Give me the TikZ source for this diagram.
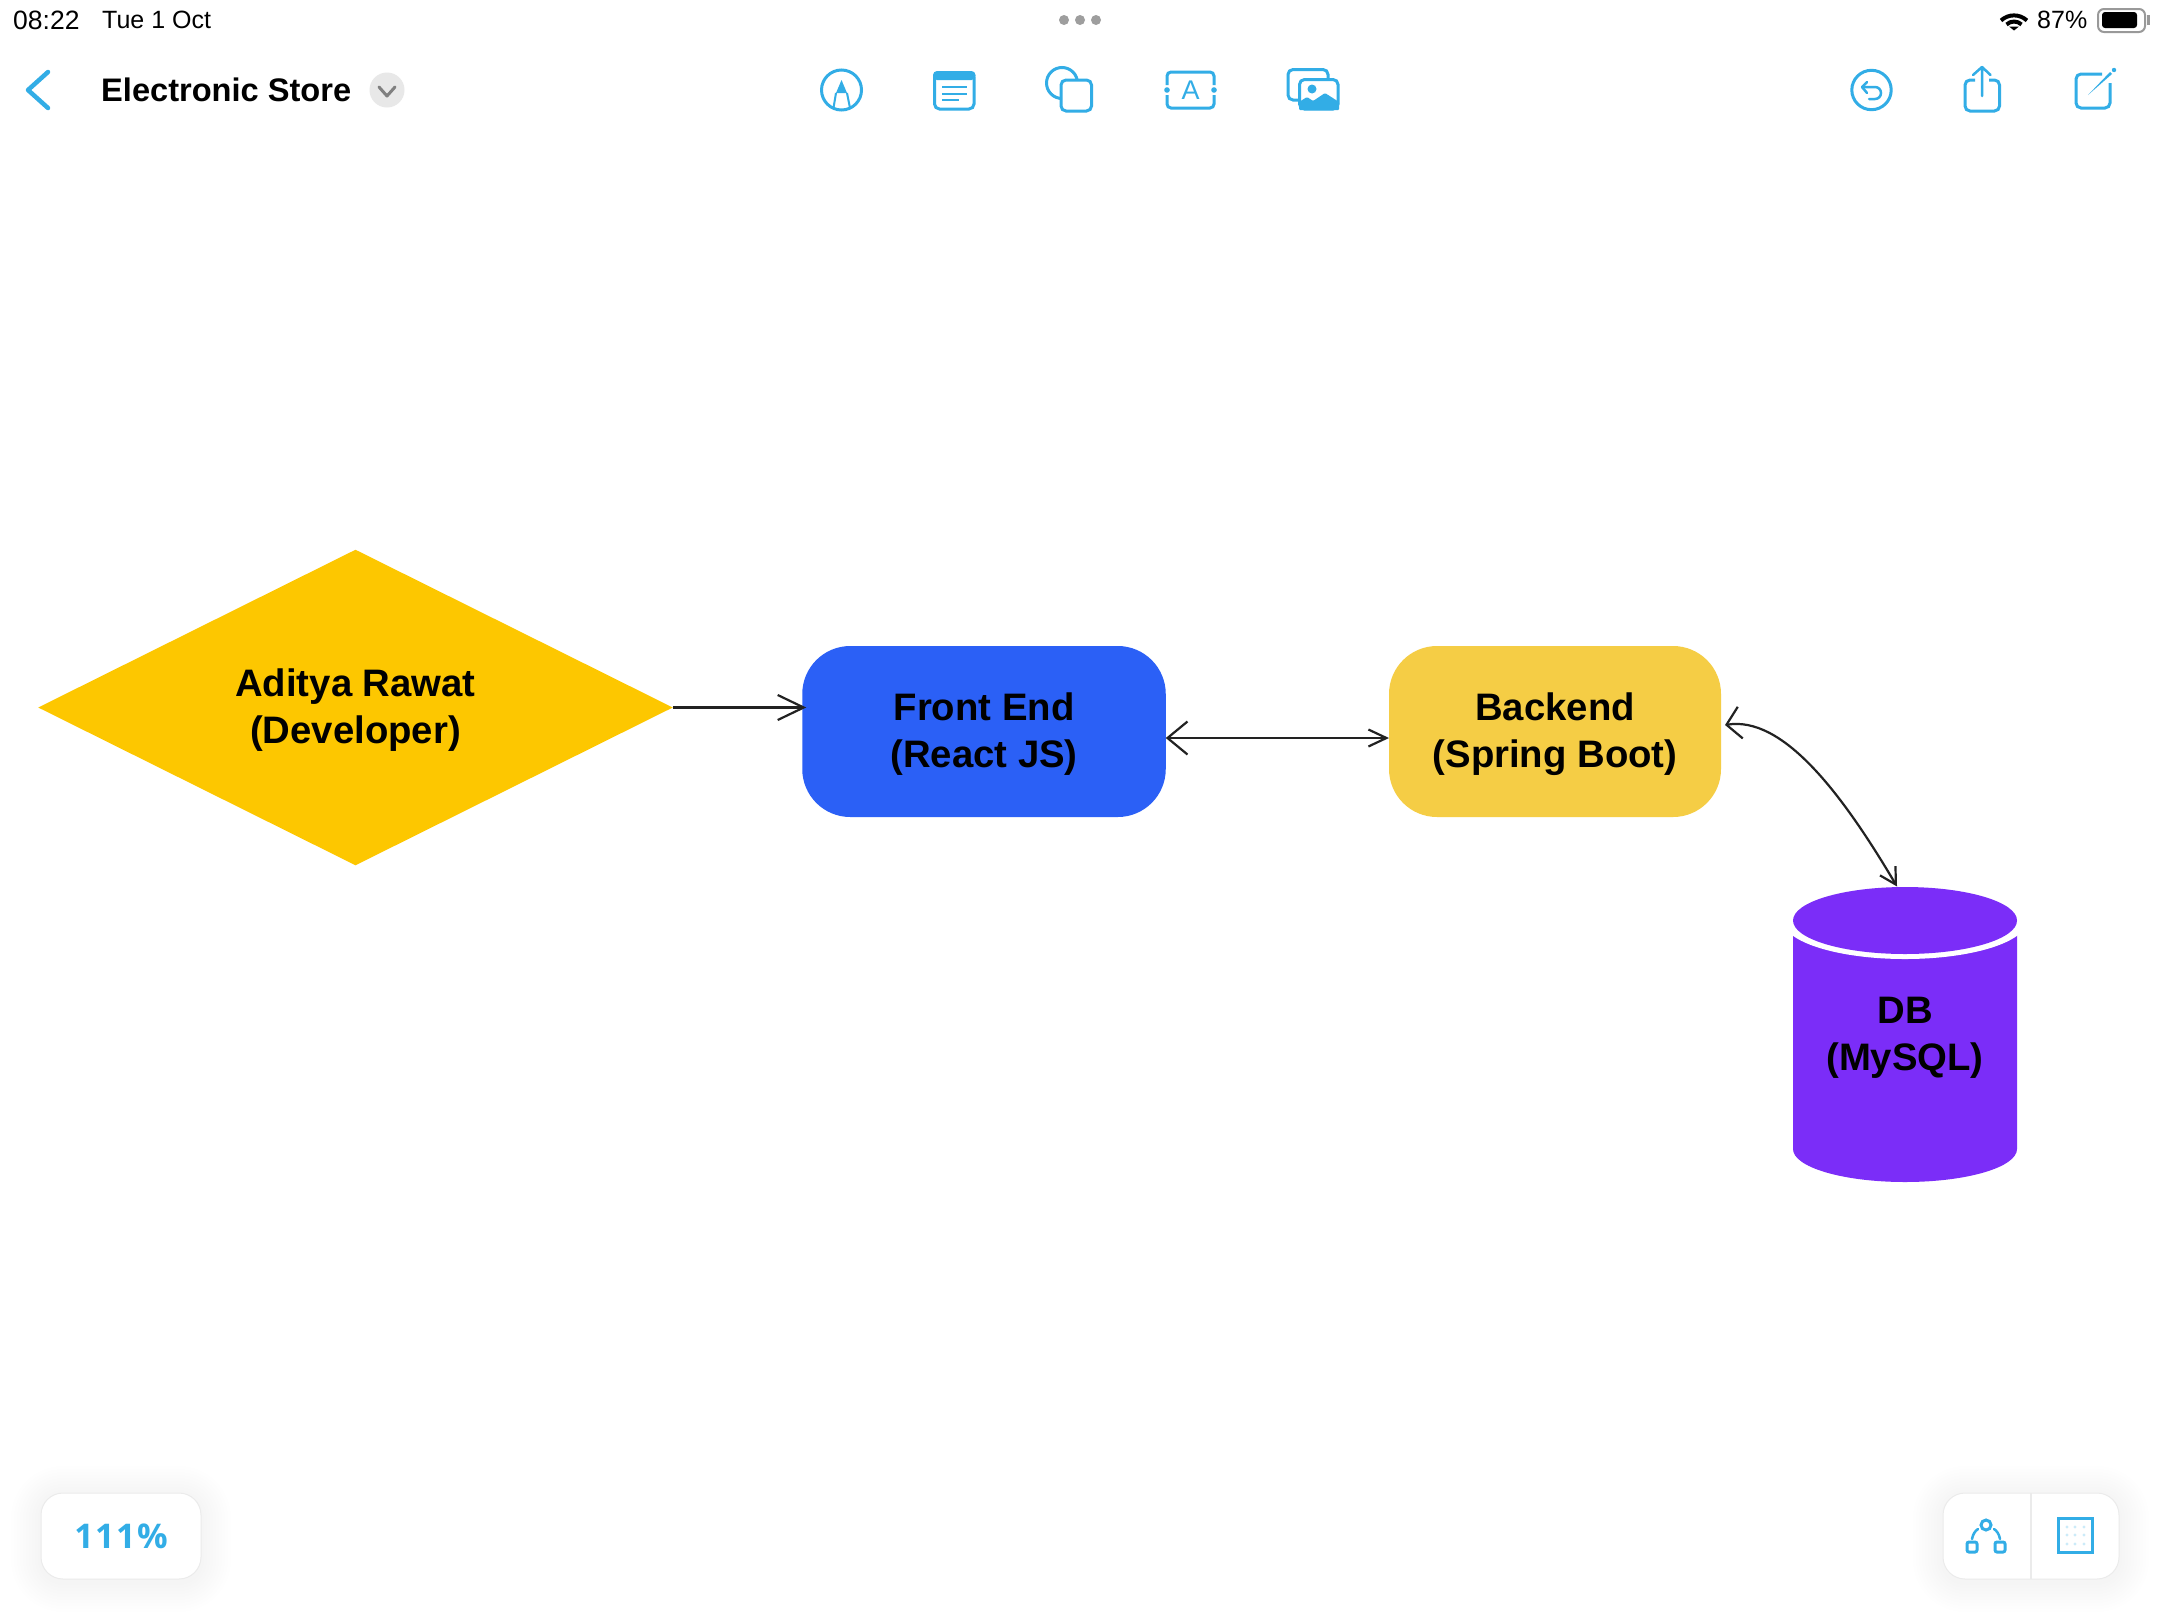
\documentclass[tikz,border=0pt]{standalone}
\usepackage{fontspec}
\setmainfont{Liberation Sans}
\newfontfamily\zoomfont[LetterSpace=4.4]{Open Sans}
\usetikzlibrary{arrows.meta,shapes.geometric}
\definecolor{appblue}{HTML}{32ADE6}
\definecolor{devyellow}{HTML}{FDC700}
\definecolor{frontblue}{HTML}{2B60F6}
\definecolor{backyellow}{HTML}{F5CD45}
\definecolor{dbpurple}{HTML}{7B2DF8}
\definecolor{linegrey}{HTML}{222222}
\newcommand{\liftline}{\rule{0pt}{33.5pt}}
\tikzset{
	icon/.style={draw=appblue,line width=3pt},
	iconfill/.style={fill=appblue},
	status/.style={font=\fontsize{25}{30}\selectfont,inner sep=0pt},
	shapelabel/.style={font=\fontsize{38.3}{47}\selectfont\bfseries,align=center,inner sep=0pt,outer sep=0pt},
	stepbox/.style={shapelabel,rounded corners=48pt,minimum height=171pt},
	link/.style={draw=linegrey,line width=2.2pt},
	panel/.style={fill=white,draw=black!8,line width=1pt,rounded corners=22pt},
	panelglow/.style={black,opacity=0.005},
}
\begin{document}
\begin{tikzpicture}[x=1pt,y=-1pt]
	\useasboundingbox (0,0) rectangle (2160,1620);
	\fill[white] (0,0) rectangle (2160,1620);

	% status bar
	\node[status,anchor=west,font=\fontsize{26.5}{30}\selectfont] at (13,20) (clock) {08:22};
	\node[status,anchor=west] at (102,20) (date) {Tue 1 Oct};
	\fill[black!38] (1064,20) circle (5pt) (1080,20) circle (5pt) (1096,20) circle (5pt);
	\draw[line width=4pt] (2001,20.5) arc[start angle=133,end angle=47,radius=19pt];
	\draw[line width=4pt] (2006.5,24.5) arc[start angle=133,end angle=47,radius=11pt];
	\fill (2009,26.5) -- (2019,26.5) -- (2014,30.5) -- cycle;
	\node[status,anchor=west] at (2037,20) (battery) {87\%};
	\draw[black!40,line width=2pt,rounded corners=6pt] (2098,9) rectangle (2145,32);
	\fill[rounded corners=3pt] (2102,12) rectangle (2137,28);
	\fill[black!40] (2147,15) rectangle (2150,25);

	% title bar
	\draw[appblue,line width=4.5pt,line cap=round,line join=round] (48,72) -- (28,90) -- (48,108);
	\node[anchor=west,inner sep=0pt,font=\fontsize{32.6}{38}\selectfont\bfseries] at (101,90) (title) {Electronic Store};
	\fill[black!9] (387,90) circle (17.5pt);
	\draw[black!50,line width=3pt,line cap=round,line join=round] (379,87) -- (387,96) -- (395,87);

	% pencil
	\draw[icon] (841.5,90) circle (20pt);
	\fill[iconfill] (841.5,80) -- (847,93) -- (836,93) -- cycle;
	\draw[appblue,line width=2pt] (836,93) -- (833.5,108) (847,93) -- (850,108);
	% note
	\draw[icon,rounded corners=5pt] (934.5,72.5) rectangle (974,109);
	\fill[iconfill,rounded corners=4pt] (933,71) rectangle (975.5,80);
	\draw[appblue,line width=2.5pt] (942,87) -- (967,87) (942,94) -- (967,94) (942,100) -- (959,100);
	% shapes
	\draw[icon] (1062,83) circle (15.5pt);
	\draw[icon,fill=white,rounded corners=5pt] (1061,80) rectangle (1091.5,111);
	% text box
	\draw[icon,rounded corners=4pt] (1167,85) -- (1167,72) -- (1214,72) -- (1214,85);
	\draw[icon,rounded corners=4pt] (1167,95) -- (1167,108) -- (1214,108) -- (1214,95);
	\fill[iconfill] (1167,90) circle (2.8pt) (1214,90) circle (2.8pt);
	\node[text=appblue,inner sep=0pt,font=\fontsize{27}{30}\selectfont] at (1190.5,90) (textglyph) {A};
	% images
	\draw[icon,rounded corners=5pt] (1288,69.5) rectangle (1328,100);
	\draw[icon,fill=white,rounded corners=5pt] (1299.5,79.5) rectangle (1338,109);
	\fill[iconfill] (1312,89) circle (4.5pt);
	\fill[iconfill,rounded corners=1pt] (1299,110) -- (1299,102) -- (1307,97) -- (1313,101) -- (1325,93) -- (1339,102) -- (1339,110) -- cycle;

	% undo
	\draw[icon] (1871.5,90) circle (19.7pt);
	\draw[appblue,line width=2.5pt,line cap=round,line join=round] (1867,82) -- (1862,87) -- (1867,93);
	\draw[appblue,line width=2.5pt,line cap=round] (1862,87) -- (1875,87) arc[start angle=90,end angle=-90,radius=6pt] -- (1869,99);
	% share
	\draw[icon,rounded corners=5pt] (1975,80) -- (1965,80) -- (1965,111) -- (1999.5,111) -- (1999.5,80) -- (1989,80);
	\draw[appblue,line width=2.5pt,line cap=round,line join=round] (1982,96) -- (1982,67) (1973,75) -- (1982,67) -- (1990.5,75);
	% compose
	\draw[icon,rounded corners=5pt] (2102,74) -- (2076,74) -- (2076,108) -- (2110,108) -- (2110,83);
	\fill[iconfill] (2088,95) -- (2110,72) -- (2112,74) -- cycle;
	\fill[iconfill] (2114,70) circle (2.2pt);

	% cylinder
	\fill[dbpurple] (1793,920) -- (1793,1149) arc[start angle=180,end angle=360,x radius=112pt,y radius=33pt] -- (2017,920) -- cycle;
	\fill[white] (1905,920.5) ellipse[x radius=122pt,y radius=38.5pt];
	\fill[dbpurple] (1905,920.5) ellipse[x radius=112pt,y radius=33.5pt];

	\node[diamond,fill=devyellow,shape aspect=2,minimum width=634.5pt,minimum height=315.5pt,shapelabel] at (355.5,707.5) (dev) {\liftline Aditya Rawat\\(Developer)};
	\node[stepbox,fill=frontblue,minimum width=363.5pt] at (984,731.5) (front) {\liftline Front End\\(React JS)};
	\node[stepbox,fill=backyellow,minimum width=332pt] at (1555,731.5) (back) {\liftline Backend\\(Spring Boot)};
	\node[shapelabel,minimum width=224pt,minimum height=295pt] at (1905,1034) (db) {\liftline DB\\(MySQL)};

	\draw[link,-{Straight Barb[length=26pt,width=25pt,line width=2.2pt]}] (dev.east) -- ([xshift=4pt]dev.east -| front.west);
	\draw[link,{Straight Barb[length=20pt,width=33pt,line width=2.2pt]}-{Straight Barb[length=18pt,width=17pt,line width=2.2pt]}] ([yshift=-6.5pt]front.east) -- ([yshift=-6.5pt]back.west);
	\draw[link,{Straight Barb[length=14pt,width=32pt,line width=2.2pt]}-{Straight Barb[length=16pt,width=18pt,line width=2.2pt]}] ([shift={(4pt,6.5pt)}]back.east) .. controls (1782,716) and (1840,790) .. ([shift={(-8pt,0pt)}]db.north);

	% bottom panels
	\foreach \gr in {3,6,...,30} {
		\fill[panelglow,rounded corners=22pt+\gr pt] (41-\gr,1496-\gr) rectangle (201+\gr,1582+\gr);
		\fill[panelglow,rounded corners=22pt+\gr pt] (1943-\gr,1496-\gr) rectangle (2119+\gr,1582+\gr);
	}
	\node[panel,minimum width=160pt,minimum height=86pt,inner sep=0pt,text=appblue,font=\fontsize{34}{40}\selectfont\zoomfont\bfseries] at (121,1536) (zoombox) {111\%};
	\path[panel] (1943,1493) rectangle (2119,1579);
	\draw[black!8,line width=2pt] (2031,1493) -- (2031,1579);
	\draw[icon] (1986,1525) circle (5pt);
	\draw[icon,rounded corners=2pt] (1967,1542) rectangle (1977,1552);
	\draw[icon,rounded corners=2pt] (1995,1542) rectangle (2005,1552);
	\draw[appblue,line width=2.5pt,line cap=round] (1972,1539) .. controls (1973,1534) and (1975,1531) .. (1978,1529);
	\draw[appblue,line width=2.5pt,line cap=round] (2000,1539) .. controls (1999,1534) and (1997,1531) .. (1994,1529);
	\draw[icon] (2058.5,1518.5) rectangle (2092.5,1552.5);
	\fill[appblue!25] (2067,1527) circle (1.6pt) (2075,1527) circle (1.6pt) (2084,1527) circle (1.6pt)
		(2067,1535) circle (1.6pt) (2075,1535) circle (1.6pt) (2084,1535) circle (1.6pt)
		(2067,1544) circle (1.6pt) (2075,1544) circle (1.6pt) (2084,1544) circle (1.6pt);
\end{tikzpicture}
\end{document}
